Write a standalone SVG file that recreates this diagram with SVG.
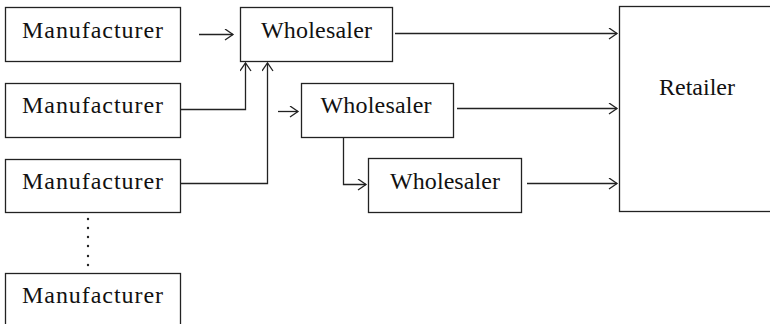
<svg xmlns="http://www.w3.org/2000/svg" width="770" height="324" viewBox="0 0 770 324">
<style>
.box{fill:#fff;stroke:#222;stroke-width:1.3}
.t{font-family:"Liberation Serif","Times New Roman",serif;font-size:24px;fill:#111;text-anchor:middle}
.c{fill:none;stroke:#222;stroke-width:1.3}
</style>
<defs>
<marker id="ah" markerUnits="userSpaceOnUse" markerWidth="12" markerHeight="14" refX="9" refY="6" orient="auto">
<path d="M1,0.5 L9,6 L1,11.5" fill="none" stroke="#222" stroke-width="1.3"/>
</marker>
</defs>
<rect width="770" height="324" fill="#fff"/>
<g id="m1"><rect class="box" x="5.5" y="7.5" width="175" height="54"/><text class="t" x="92.5" y="37.5" textLength="141" lengthAdjust="spacing">Manufacturer</text></g>
<g id="m2"><rect class="box" x="5.5" y="83.5" width="175" height="54"/><text class="t" x="92.5" y="112.5" textLength="141" lengthAdjust="spacing">Manufacturer</text></g>
<g id="m3"><rect class="box" x="5.5" y="159.5" width="175" height="53"/><text class="t" x="92.5" y="188.5" textLength="141" lengthAdjust="spacing">Manufacturer</text></g>
<g id="m4"><rect class="box" x="5.5" y="273.5" width="175" height="60"/><text class="t" x="92.5" y="302.5" textLength="141" lengthAdjust="spacing">Manufacturer</text></g>
<g id="dots" fill="#222"><circle cx="88" cy="219" r="1.2"/><circle cx="88" cy="228" r="1.2"/><circle cx="88" cy="237" r="1.2"/><circle cx="88" cy="246" r="1.2"/><circle cx="88" cy="256" r="1.2"/><circle cx="88" cy="265" r="1.2"/></g>
<g id="w1"><rect class="box" x="240.5" y="7.5" width="152" height="54"/><text class="t" x="316.5" y="37.5" textLength="111" lengthAdjust="spacing">Wholesaler</text></g>
<g id="w2"><rect class="box" x="301.5" y="83.5" width="152" height="54"/><text class="t" x="376" y="112.5" textLength="111" lengthAdjust="spacing">Wholesaler</text></g>
<g id="w3"><rect class="box" x="368.5" y="158.5" width="153" height="54"/><text class="t" x="445" y="188.5" textLength="110" lengthAdjust="spacing">Wholesaler</text></g>
<g id="retailer"><rect class="box" x="619.5" y="6.5" width="160" height="205"/><text class="t" x="697" y="95" textLength="76" lengthAdjust="spacing">Retailer</text></g>
<g id="connectors">
<path class="c" d="M199,34.5 H233" marker-end="url(#ah)"/>
<path class="c" d="M180.5,109.5 H245.5 V63" marker-end="url(#ah)"/>
<path class="c" d="M180.5,183.5 H267.5 V63" marker-end="url(#ah)"/>
<path class="c" d="M278,111.5 H298" marker-end="url(#ah)"/>
<path class="c" d="M343.5,137.5 V184.5 H366" marker-end="url(#ah)"/>
<path class="c" d="M395,33.5 H617" marker-end="url(#ah)"/>
<path class="c" d="M457,108.5 H617" marker-end="url(#ah)"/>
<path class="c" d="M527,183.5 H617" marker-end="url(#ah)"/>
</g>
</svg>
